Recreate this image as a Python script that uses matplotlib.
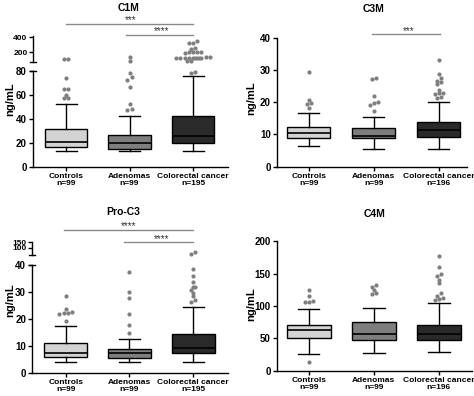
import matplotlib
matplotlib.use('Agg')
import matplotlib.pyplot as plt
import matplotlib.transforms as mtransforms
from matplotlib.lines import Line2D

plt.rcParams['font.family'] = ['Liberation Sans', 'DejaVu Sans']
plt.rcParams['font.weight'] = 'bold'

W, H, DPI = 474, 396, 100

groups = ['Controls', 'Adenomas', 'Colorectal cancer']
n_c1m = [99, 99, 195]
n_c3m = [99, 99, 196]
n_proc3 = [99, 99, 195]
n_c4m = [99, 99, 196]

# five-number summaries: whislo, q1, median, q3, whishi
c1m_box = [[13, 17, 21, 31.5, 52], [13, 15, 19.7, 26.7, 42.5], [13, 19.7, 25.8, 42.5, 75.8]]
c1m_out = [
    [57, 57.3, 59.7, 64.5, 64.8, 73.6, 107, 107.5],
    [47.5, 47.8, 52, 66.4, 72.5, 74.7, 77.8, 141],
    [77.8, 79.2, 118, 120, 122, 124, 125, 126, 127, 128, 130, 132, 133,
     195, 198, 200, 202, 205, 240, 262, 318, 322, 355],
]
c3m_box = [[6.5, 9.0, 10.4, 12.2, 16.6], [5.4, 8.8, 9.5, 11.9, 15.4], [5.4, 9.2, 11.4, 13.9, 20.1]]
c3m_out = [
    [18.2, 19.3, 19.8, 20.6, 29.3],
    [17.3, 19.2, 19.6, 20.0, 21.8, 27.2, 27.6],
    [21.4, 21.6, 22.6, 22.8, 23.0, 23.8, 25.5, 26.3, 26.5, 27.4, 28.6, 33.1],
]
proc3_box = [[4.1, 6.0, 7.5, 11.0, 17.6], [3.9, 5.6, 7.5, 8.8, 12.6], [3.9, 7.5, 9.3, 14.3, 24.4]]
proc3_out = [
    [19.1, 22.0, 22.2, 22.4, 22.6, 23.7, 28.6],
    [14.7, 17.7, 21.9, 27.8, 30.0, 37.5],
    [26.2, 27.2, 28.4, 29.7, 30.9, 31.8, 32.1, 33.8, 35.9, 38.6, 45, 66],
]
c4m_box = [[26.3, 50.5, 62.4, 71.1, 95.4], [27.3, 48, 57.2, 74.7, 96.9], [28.9, 46.9, 57.2, 71.1, 104.6]]
c4m_out = [
    [13.4, 106, 106.5, 107, 116, 124],
    [118, 120, 124, 129, 132],
    [110, 111, 113, 116, 120, 135, 140, 147, 150, 160, 177],
]

box_colors = ['#d3d3d3', '#7e7e7e', '#2a2a2a']
dot_color = '#7f7f7f'

fig = plt.figure(figsize=(W / DPI, H / DPI), dpi=DPI)


def fr(x0, y_top, x1, y_bot):
    return [x0 / W, 1 - y_bot / H, (x1 - x0) / W, (y_bot - y_top) / H]


def style_lower(ax, ylim, yticks, xlim, labels):
    ax.set_ylim(*ylim)
    ax.set_xlim(*xlim)
    ax.set_yticks(yticks)
    ax.set_yticklabels([str(t) for t in yticks], fontsize=7, fontweight='bold')
    ax.set_xticks([1, 2, 3])
    ax.set_xticklabels(labels, fontsize=6, fontweight='bold', linespacing=0.95)
    for s in ['top', 'right']:
        ax.spines[s].set_visible(False)
    for s in ['left', 'bottom']:
        ax.spines[s].set_linewidth(1.0)
    ax.tick_params(axis='both', length=3, width=1.0, pad=1.5)
    ax.patch.set_alpha(0)


def style_upper(ax, ylim, yticks, xlim):
    ax.set_ylim(*ylim)
    ax.set_xlim(*xlim)
    ax.set_yticks(yticks)
    ax.set_yticklabels([str(t) for t in yticks], fontsize=6, fontweight='bold')
    ax.set_xticks([])
    for s in ['top', 'right', 'bottom']:
        ax.spines[s].set_visible(False)
    ax.spines['left'].set_linewidth(1.0)
    ax.tick_params(axis='y', length=3, width=1.0, pad=1.0)
    ax.patch.set_alpha(0)


def draw_boxes(ax, box):
    stats = []
    for b in box:
        stats.append(dict(whislo=b[0], q1=b[1], med=b[2], q3=b[3], whishi=b[4], fliers=[]))
    res = ax.bxp(stats, positions=[1, 2, 3], widths=0.67, capwidths=0.33,
                 patch_artist=True, showfliers=False,
                 boxprops=dict(linewidth=1.0, edgecolor='black'),
                 whiskerprops=dict(linewidth=1.0, color='black'),
                 capprops=dict(linewidth=1.0, color='black'),
                 medianprops=dict(linewidth=1.2, color='black'))
    for p, c in zip(res['boxes'], box_colors):
        p.set_facecolor(c)


def draw_dots(axes_list, outs, thresh_px=3.2, dx_px=4.2):
    fig.canvas.draw()
    for i, vals in enumerate(outs):
        pos = i + 1
        for ax in axes_list:
            lo, hi = ax.get_ylim()
            v = sorted([x for x in vals if lo <= x <= hi])
            if not v:
                continue
            p0 = ax.transData.transform((pos, lo))
            p1 = ax.transData.transform((pos + 1, hi))
            ppx = p1[0] - p0[0]
            ppy = (p1[1] - p0[1]) / (hi - lo)
            clusters = []
            for x in v:
                if clusters and (x - clusters[-1][0]) * ppy < thresh_px:
                    clusters[-1].append(x)
                else:
                    clusters.append([x])
            xs, ys = [], []
            for c in clusters:
                n = len(c)
                for k, val in enumerate(c):
                    xs.append(pos + (k - (n - 1) / 2) * dx_px / ppx)
                    ys.append(val)
            ax.plot(xs, ys, 'o', ms=3.0, color=dot_color, mec='none', clip_on=False, zorder=3)


def break_marks(ax_up, ax_low):
    for ax, where in [(ax_up, 'bottom'), (ax_low, 'top')]:
        bb = ax.get_position()
        y = bb.y0 if where == 'bottom' else bb.y1
        fig.add_artist(Line2D([bb.x0 - 3.5 / W, bb.x0 + 2.5 / W], [y, y],
                              transform=fig.transFigure, color='black', lw=1.0))


def sig(ax, x0, x1, ypx, text, txpx, typx):
    tr = mtransforms.blended_transform_factory(ax.transData, fig.transFigure)
    ax.plot([x0, x1], [1 - ypx / H, 1 - ypx / H], color='#8a8a8a', lw=1.0,
            transform=tr, clip_on=False)
    fig.text(txpx / W, 1 - typx / H, text, ha='center', va='center', fontsize=7,
             fontweight='normal', color='#333333')


def labels_for(ns):
    return [f"{g}\nn={n}" for g, n in zip(groups, ns)]


YLAB = dict(ha='center', va='center', rotation=90, fontsize=8, fontweight='bold')
TITLE = dict(ha='center', va='center', fontsize=7.5, fontweight='bold')

# ---------- Panel C1M ----------
xl1 = (0.48, 3.55)
ax1u = fig.add_axes(fr(33, 36, 228, 61.7))
ax1 = fig.add_axes(fr(33, 70.7, 228, 167))
draw_boxes(ax1, c1m_box)
style_lower(ax1, (0, 80), [0, 20, 40, 60, 80], xl1, labels_for(n_c1m))
style_upper(ax1u, (75, 417), [200, 400], xl1)
break_marks(ax1u, ax1)
draw_dots([ax1, ax1u], c1m_out)
sig(ax1u, 1, 3, 24, '***', 131, 20)
sig(ax1u, 1.95, 3, 34.5, '****', 162, 31)
fig.text(129 / W, 1 - 8 / H, 'C1M', **TITLE)
fig.text(10 / W, 1 - 99 / H, 'ng/mL', **YLAB)

# ---------- Panel C3M ----------
xl2 = (0.512, 3.435)
ax2 = fig.add_axes(fr(277, 37.7, 467, 166.7))
draw_boxes(ax2, c3m_box)
style_lower(ax2, (0, 40), [0, 10, 20, 30, 40], xl2, labels_for(n_c3m))
draw_dots([ax2], c3m_out)
sig(ax2, 1.98, 3.02, 34, '***', 408.5, 31.5)
fig.text(373.7 / W, 1 - 8.5 / H, 'C3M', **TITLE)
fig.text(251 / W, 1 - 98 / H, 'ng/mL', **YLAB)

# ---------- Panel Pro-C3 ----------
xl3 = (0.477, 3.55)
ax3u = fig.add_axes(fr(32.3, 242, 228.3, 254.7))
ax3 = fig.add_axes(fr(32.3, 265.3, 228.3, 372.8))
draw_boxes(ax3, proc3_box)
style_lower(ax3, (0, 40), [0, 10, 20, 30, 40], xl3, labels_for(n_proc3))
style_upper(ax3u, (40, 152), [100, 150], xl3)
break_marks(ax3u, ax3)
draw_dots([ax3, ax3u], proc3_out)
sig(ax3u, 0.97, 3, 230.3, '****', 129, 226.5)
sig(ax3u, 1.92, 3, 242, '****', 161.5, 239)
fig.text(123 / W, 1 - 212 / H, 'Pro-C3', **TITLE)
fig.text(10 / W, 1 - 300 / H, 'ng/mL', **YLAB)

# ---------- Panel C4M ----------
xl4 = (0.512, 3.51)
ax4 = fig.add_axes(fr(277, 241.3, 472, 370.7))
draw_boxes(ax4, c4m_box)
style_lower(ax4, (0, 200), [0, 50, 100, 150, 200], xl4, labels_for(n_c4m))
draw_dots([ax4], c4m_out)
fig.text(375 / W, 1 - 214 / H, 'C4M', **TITLE)
fig.text(251 / W, 1 - 304 / H, 'ng/mL', **YLAB)

fig.savefig('out.png', dpi=DPI)
